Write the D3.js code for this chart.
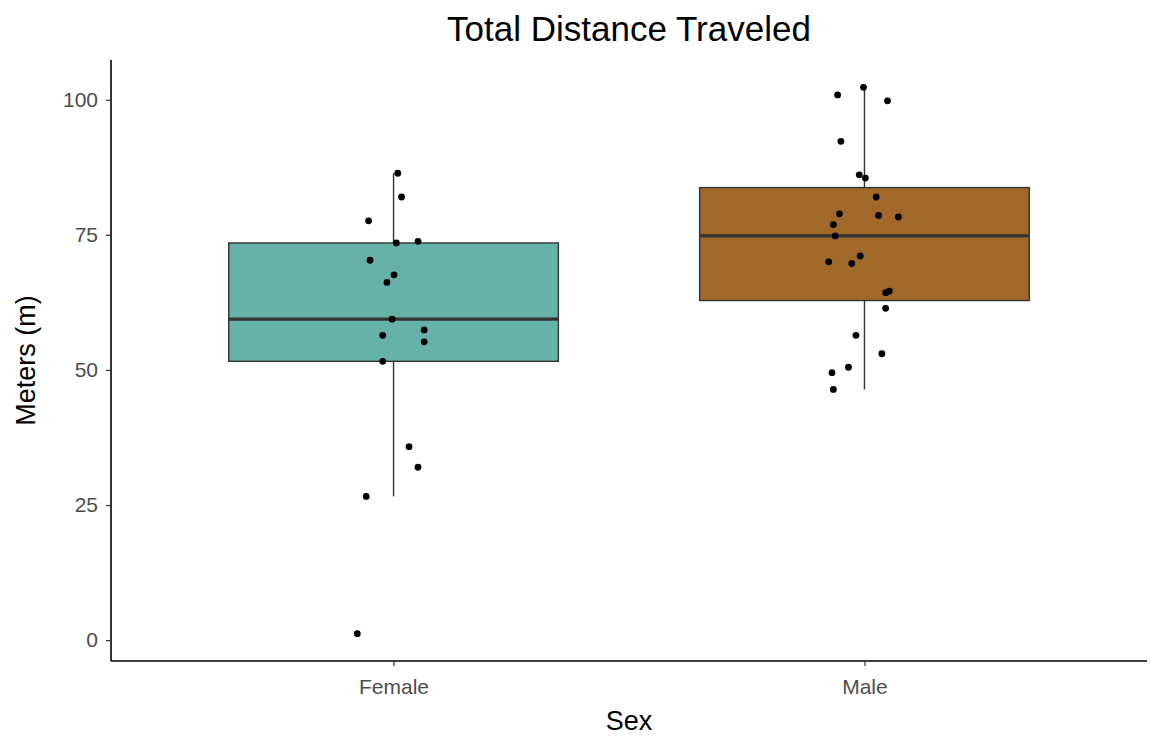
<!DOCTYPE html>
<html>
<head>
<meta charset="utf-8">
<script src="https://cdn.jsdelivr.net/npm/d3@7"></script>
<style>
  html, body { margin: 0; padding: 0; background: #ffffff; }
  svg { display: block; font-family: "Liberation Sans", Arial, sans-serif; }
</style>
</head>
<body>
<svg id="chart" width="1151" height="737"></svg>
<script>
// ---- data ----
const categories = ["Female", "Male"];
const femaleValues = [86.4, 82.0, 77.6, 73.5, 73.8, 70.3, 67.6, 66.2, 59.4, 56.4, 57.4, 55.2, 51.6, 35.8, 32.0, 26.6, 1.2];
const femaleJitter = [0.009, 0.017, -0.053, 0.006, 0.052, -0.050, 0.001, -0.014, -0.003, -0.023, 0.065, 0.065, -0.023, 0.033, 0.052, -0.058, -0.077];
const maleValues = [100.9, 102.3, 99.8, 92.3, 86.1, 85.5, 82.0, 78.9, 78.6, 78.3, 76.9, 74.8, 71.1, 70.0, 69.7, 64.3, 64.6, 61.4, 56.4, 53.0, 50.5, 49.5, 46.4];
const maleJitter = [-0.057, -0.002, 0.049, -0.050, -0.011, 0.002, 0.025, -0.053, 0.030, 0.072, -0.066, -0.062, -0.009, -0.076, -0.027, 0.045, 0.053, 0.045, -0.018, 0.037, -0.034, -0.069, -0.066];
const yTicks = [0, 25, 50, 75, 100];
const fillColors = ["#67b2a8", "#a0692a"];
const titleText = "Total Distance Traveled";
const xTitle = "Sex";
const yTitle = "Meters (m)";

const groups = [
  { name: categories[0], values: femaleValues, jitter: femaleJitter, fill: fillColors[0] },
  { name: categories[1], values: maleValues, jitter: maleJitter, fill: fillColors[1] }
];

// ---- layout ----
const svg = d3.select("#chart");
const pLeft = 111, pRight = 1147, pTop = 60, pBottom = 661;
const FONT = "'Liberation Sans', Arial, sans-serif";

const allVals = femaleValues.concat(maleValues);
const ymin = d3.min(allVals), ymax = d3.max(allVals);
const pad = (ymax - ymin) * 0.05;
const y = d3.scaleLinear().domain([ymin - pad, ymax + pad]).range([pBottom, pTop]);

// discrete x with 0.6 expansion on each side
const xLin = d3.scaleLinear().domain([0.4, categories.length + 0.6]).range([pLeft, pRight]);
const xPos = name => xLin(categories.indexOf(name) + 1);
const boxHalf = (xLin(1.35) - xLin(1));

// ---- boxes ----
groups.forEach(g => {
  const s = g.values.slice().sort(d3.ascending);
  const q1 = d3.quantile(s, 0.25), med = d3.quantile(s, 0.5), q3 = d3.quantile(s, 0.75);
  const iqr = q3 - q1;
  const lo = d3.min(s.filter(v => v >= q1 - 1.5 * iqr));
  const hi = d3.max(s.filter(v => v <= q3 + 1.5 * iqr));
  const cx = xPos(g.name);
  const gg = svg.append("g");
  gg.append("line").attr("x1", cx).attr("x2", cx).attr("y1", y(q3)).attr("y2", y(hi))
    .attr("stroke", "#333333").attr("stroke-width", 1.4);
  gg.append("line").attr("x1", cx).attr("x2", cx).attr("y1", y(q1)).attr("y2", y(lo))
    .attr("stroke", "#333333").attr("stroke-width", 1.4);
  gg.append("rect").attr("x", cx - boxHalf).attr("width", 2 * boxHalf)
    .attr("y", y(q3)).attr("height", y(q1) - y(q3))
    .attr("fill", g.fill).attr("stroke", "#333333").attr("stroke-width", 1.4);
  gg.append("line").attr("x1", cx - boxHalf).attr("x2", cx + boxHalf)
    .attr("y1", y(med)).attr("y2", y(med))
    .attr("stroke", "#333333").attr("stroke-width", 3.2);
});

// ---- jitter points ----
groups.forEach(g => {
  svg.append("g").selectAll("circle").data(g.values).join("circle")
    .attr("cx", (d, i) => xLin(categories.indexOf(g.name) + 1 + g.jitter[i]))
    .attr("cy", d => y(d))
    .attr("r", 3.4)
    .attr("fill", "#000000");
});

// ---- axes ----
const yAxis = d3.axisLeft(y).tickValues(yTicks).tickSize(5).tickPadding(8);
const gy = svg.append("g").attr("transform", `translate(${pLeft},0)`).call(yAxis);
gy.select(".domain").attr("d", `M0,${pTop}V${pBottom}`).attr("stroke", "#000").attr("stroke-width", 1.6);
gy.selectAll(".tick line").attr("stroke", "#333").attr("stroke-width", 1.2);
gy.selectAll(".tick text").attr("fill", "#4d4d4d").attr("font-size", 21).style("font-family", FONT);

const xBand = d3.scalePoint().domain(categories).range([xPos(categories[0]), xPos(categories[1])]);
const xAxis = d3.axisBottom(xBand).tickSize(5).tickPadding(13);
const gx = svg.append("g").attr("transform", `translate(0,${pBottom})`).call(xAxis);
gx.select(".domain").attr("d", `M${pLeft},0H${pRight}`).attr("stroke", "#000").attr("stroke-width", 1.6);
gx.selectAll(".tick line").attr("stroke", "#333").attr("stroke-width", 1.2);
gx.selectAll(".tick text").attr("fill", "#4d4d4d").attr("font-size", 21).style("font-family", FONT);

// ---- titles ----
svg.append("text").attr("x", (pLeft + pRight) / 2).attr("y", 41)
  .attr("text-anchor", "middle").attr("font-size", 35).attr("fill", "#000")
  .text(titleText);
svg.append("text").attr("x", (pLeft + pRight) / 2).attr("y", 730)
  .attr("text-anchor", "middle").attr("font-size", 27).attr("fill", "#000")
  .text(xTitle);
svg.append("text").attr("transform", `translate(35,${(pTop + pBottom) / 2}) rotate(-90)`)
  .attr("text-anchor", "middle").attr("font-size", 27).attr("fill", "#000")
  .text(yTitle);
</script>
</body>
</html>
